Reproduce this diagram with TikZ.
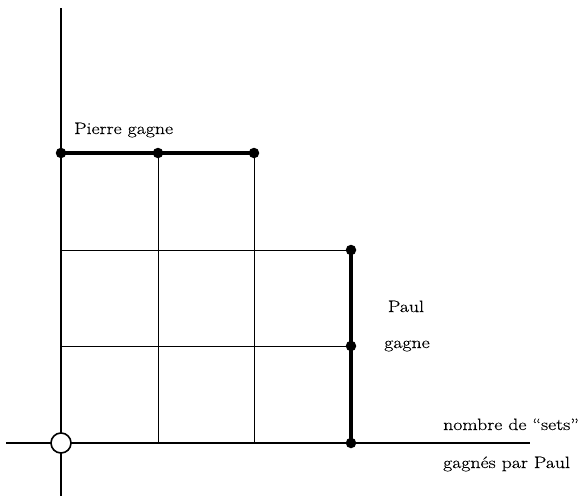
\documentclass[tikz,border=0pt]{standalone}
\usepackage{fontspec}
\newfontfamily\lblfont[Ligatures=TeX,FakeBold=0.3]{Latin Modern Roman}
\begin{document}
\begin{tikzpicture}[x=1pt,y=-1pt,
  axis/.style={line width=1.8pt},
  grid/.style={line width=0.9pt},
  thick line/.style={line width=4.5pt},
  dot/.style={circle,fill=black,inner sep=0pt,minimum size=10.5pt},
  origin/.style={circle,draw=black,fill=white,line width=1.6pt,inner sep=0pt,minimum size=20pt},
  lbl/.style={font=\lblfont\fontsize{16.5}{19}\selectfont,inner sep=0pt}]
\newcommand{\wide}[1]{\scalebox{1.2}[1]{#1}}
\useasboundingbox (0,0) rectangle (582,496);
% coordinates
\coordinate (ytop) at (61,8);
\coordinate (ybot) at (61,496);
\coordinate (xl) at (6,443);
\coordinate (xr) at (530,443);
\coordinate (a1) at (158,443);
\coordinate (a2) at (254,443);
\coordinate (b1) at (61,346);
\coordinate (b2) at (61,250);
% axes
\draw[axis] (ytop) -- (ybot);
\draw[axis] (xl) -- (xr);
% grid
\node[dot] (p0) at (61,153) {};
\node[dot] (p1) at (158,153) {};
\node[dot] (p2) at (254,153) {};
\node[dot] (q0) at (351,443) {};
\node[dot] (q1) at (351,346) {};
\node[dot] (q2) at (351,250) {};
\draw[grid] (p1.center) -- (a1);
\draw[grid] (p2.center) -- (a2);
\draw[grid] (b1) -- (q1.center);
\draw[grid] (b2) -- (q2.center);
\draw[thick line] (p0.center) -- (p2.center);
\draw[thick line] (q0.center) -- (q2.center);
\node[origin] (o) at (61,443) {};
% labels
\node[lbl,anchor=base west] (pierre) at (74,134) {\wide{Pierre gagne}};
\node[lbl,anchor=base] (paul1) at (406,312) {\wide{Paul}};
\node[lbl,anchor=base] (paul2) at (407,348) {\wide{gagne}};
\node[lbl,anchor=base west] (ax1) at (443,430) {\wide{nombre de ``sets''}};
\node[lbl,anchor=base west] (ax2) at (443,468) {\wide{gagnés par Paul}};
\end{tikzpicture}
\end{document}
